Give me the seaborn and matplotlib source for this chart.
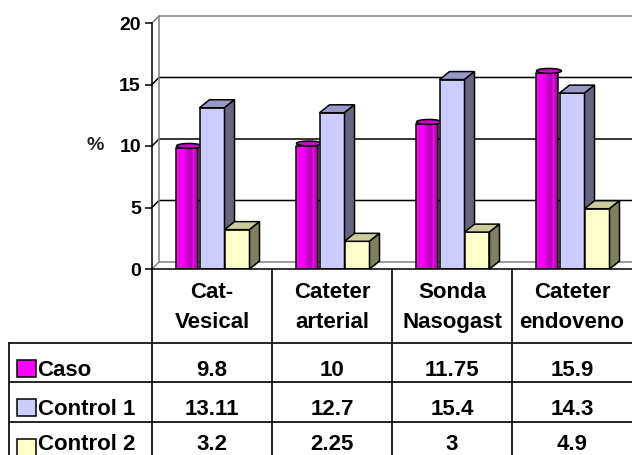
import numpy as np
import pandas as pd
import matplotlib
matplotlib.use("Agg")
import matplotlib.pyplot as plt
from matplotlib.patches import Polygon, Rectangle, Ellipse
from matplotlib.colors import LinearSegmentedColormap
from matplotlib.transforms import blended_transform_factory
import seaborn as sns

# ---- data -------------------------------------------------------------
categories = ["Cat-\nVesical", "Cateter\narterial", "Sonda\nNasogast", "Cateter\nendoveno"]
series = ["Caso", "Control 1", "Control 2"]
caso = [9.8, 10, 11.75, 15.9]
control1 = [13.11, 12.7, 15.4, 14.3]
control2 = [3.2, 2.25, 3, 4.9]
y_ticks = [0, 5, 10, 15, 20]

front_colors = ["#FF00FF", "#CCCCFF", "#FFFFCC"]
top_colors = ["#CC00CC", "#9999C8", "#CCCC99"]
side_colors = ["#990099", "#666680", "#808060"]

values = [caso, control1, control2]
df = pd.DataFrame(
    [(c, s, v) for s, vals in zip(series, values) for c, v in zip(categories, vals)],
    columns=["categoria", "serie", "valor"],
)

sns.set_style("white")
plt.rcParams["font.family"] = ["Liberation Sans", "DejaVu Sans"]
plt.rcParams["font.weight"] = "bold"
plt.rcParams["axes.labelweight"] = "bold"

W, H = 632, 455
fig = plt.figure(figsize=(W / 100, H / 100), dpi=100)
left_px, bottom_px, width_px, top_px = 152, 269, 480, 23
ax = fig.add_axes([left_px / W, (H - bottom_px) / H, width_px / W, (bottom_px - top_px) / H])

sns.barplot(
    data=df, x="categoria", y="valor", hue="serie",
    order=categories, hue_order=series, palette=front_colors,
    width=0.625, saturation=1, edgecolor="black", linewidth=1.1,
    errorbar=None, legend=False, ax=ax,
)

xmin, xmax, ymin, ymax = -0.5, 3.5, 0, 20
ax.set_xlim(xmin, xmax)
ax.set_ylim(ymin, ymax)
px_x = (xmax - xmin) / width_px
px_y = (ymax - ymin) / (bottom_px - top_px)

# ---- 3-D walls: back wall, left wall and floor ------------------------
wx, wy = 7 * px_x, 7 * px_y
far_x = xmax + 0.2
for t in y_ticks[1:-1]:
    ax.plot([xmin, xmin + wx, far_x], [t, t + wy, t + wy], color="black",
            lw=1.1, zorder=0.5, clip_on=False)
ax.plot([xmin, xmin + wx, far_x], [ymax, ymax + wy, ymax + wy], color="#808080",
        lw=1.1, zorder=0.5, clip_on=False)
ax.plot([xmin + wx, xmin + wx], [wy, ymax + wy], color="#808080", lw=1.1,
        zorder=0.5, clip_on=False)
ax.plot([xmin, xmin + wx, far_x], [ymin, wy, wy], color="#808080", lw=1.1,
        zorder=0.5, clip_on=False)

# ---- 3-D bar faces ----------------------------------------------------
dx, dy = 10 * px_x, 8 * px_y
caso_cmap = LinearSegmentedColormap.from_list(
    "caso",
    [(0, "#FF00FF"), (0.3, "#F500F5"), (0.72, "#B400B4"), (0.8, "#E020E0"),
     (0.88, "#C000C0"), (1, "#A000A0")],
)
gradient = np.linspace(0, 1, 64).reshape(1, -1)

for i, cont in enumerate(ax.containers):
    base_z = 3 + i
    for bar in cont:
        x0, w, h = bar.get_x(), bar.get_width(), bar.get_height()
        if i == 0:
            # cylinder: narrower body with shaded face and elliptic cap
            x0 += 1.5 * px_x
            w -= 3 * px_x
            bar.set_x(x0)
            bar.set_width(w)
            bar.set_facecolor("none")
            bar.set_zorder(base_z + 0.2)
            ax.imshow(gradient, extent=[x0, x0 + w, 0, h], aspect="auto",
                      cmap=caso_cmap, zorder=base_z + 0.1, interpolation="bilinear")
            ax.add_patch(Ellipse((x0 + w / 2 + 2 * px_x, h + 2.5 * px_y),
                                 w + 3 * px_x, 5 * px_y, facecolor=top_colors[0],
                                 edgecolor="black", lw=1.1, zorder=base_z + 0.3))
        else:
            x1 = x0 + w
            bar.set_zorder(base_z + 0.2)
            ax.add_patch(Polygon([(x0, h), (x0 + dx, h + dy), (x1 + dx, h + dy), (x1, h)],
                                 closed=True, facecolor=top_colors[i], edgecolor="black",
                                 lw=1.1, zorder=base_z + 0.2, clip_on=False))
            ax.add_patch(Polygon([(x1, 0), (x1 + dx, dy), (x1 + dx, h + dy), (x1, h)],
                                 closed=True, facecolor=side_colors[i], edgecolor="black",
                                 lw=1.1, zorder=base_z + 0.2, clip_on=False))

ax.set_xlim(xmin, xmax)
ax.set_ylim(ymin, ymax)

# ---- axes -------------------------------------------------------------
for s in ["top", "right"]:
    ax.spines[s].set_visible(False)
for s in ["left", "bottom"]:
    ax.spines[s].set_color("black")
    ax.spines[s].set_linewidth(1.1)
    ax.spines[s].set_zorder(10)
ax.set_xticks([])
ax.set_xlabel("")
ax.set_yticks(y_ticks)
ax.set_yticklabels([str(t) for t in y_ticks])
ax.tick_params(axis="y", left=True, length=5, width=1.1, pad=3, labelsize=14,
               colors="black")
ax.set_ylabel("%", rotation=0, fontsize=14, fontweight="bold", ha="center", va="center")
ax.yaxis.set_label_coords((95 - left_px) / width_px, 0.5)
ax.patch.set_alpha(0)

# ---- data table -------------------------------------------------------
ov = fig.add_axes([0, 0, 1, 1], zorder=5)
ov.set_xlim(0, W)
ov.set_ylim(H, 0)
ov.axis("off")
ov.patch.set_alpha(0)
bt = blended_transform_factory(ax.transData, ov.transData)

row_tops = [343, 382, 422]
row_baselines = [376, 415, 449.5]
table_bottom = 465
lw_tab = 1.2
for j in range(len(categories)):
    ov.plot([j - 0.5, j - 0.5], [bottom_px, table_bottom], color="black", lw=lw_tab,
            transform=bt, clip_on=False)
for y in row_tops:
    ov.plot([9, W + 5], [y, y], color="black", lw=lw_tab, clip_on=False)
ov.plot([9, 9], [row_tops[0], table_bottom], color="black", lw=lw_tab, clip_on=False)

txt_kw = dict(fontsize=16, fontweight="bold", color="black")
for j, cat in enumerate(categories):
    for k, line in enumerate(cat.split("\n")):
        ov.text(j, 298 + 30 * k, line, transform=bt, ha="center", va="baseline", **txt_kw)

for i, (name, vals) in enumerate(zip(series, values)):
    top = row_tops[i]
    base = row_baselines[i]
    ov.add_patch(Rectangle((17, top + 16.5), 19, 17.5, facecolor=front_colors[i],
                           edgecolor="black", lw=1.1))
    ov.text(37.5, base, name, ha="left", va="baseline", **txt_kw)
    for j, v in enumerate(vals):
        ov.text(j, base, f"{v:g}", transform=bt, ha="center", va="baseline", **txt_kw)

fig.savefig("out.png", dpi=100)
